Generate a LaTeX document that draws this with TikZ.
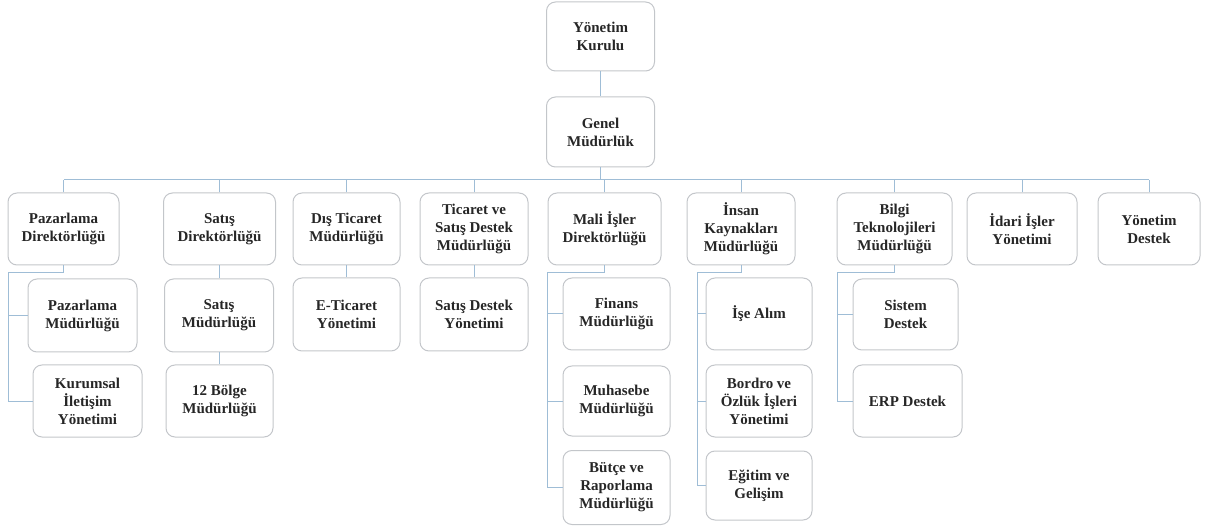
\documentclass[tikz,border=0pt]{standalone}
\usepackage{fontspec}
\setmainfont{Liberation Serif}
\definecolor{boxgray}{HTML}{C3C6CA}
\definecolor{linecol}{HTML}{9FBDD6}
\definecolor{txt}{HTML}{262626}
\tikzset{
  bx/.style={draw=boxgray, line width=1pt, rounded corners=9pt, align=center,
    font=\fontsize{15}{18}\selectfont\bfseries, text=txt, inner sep=2pt,
    minimum width=108pt, minimum height=72pt},
  conn/.style={draw=linecol, line width=1pt}
}
\begin{document}
\begin{tikzpicture}[x=1pt,y=-1pt]
\useasboundingbox (0,0) rectangle (1207,526);
% top
\node[bx, minimum height=69pt] (yk) at (600.5,36.5) {Yönetim\\Kurulu};
\node[bx, minimum height=70pt] (gm) at (600.5,132) {Genel\\Müdürlük};
% level 1
\node[bx, minimum width=111pt] (pd) at (63.5,229) {Pazarlama\\Direktörlüğü};
\node[bx, minimum width=112pt] (sd) at (219.5,229) {Satış\\Direktörlüğü};
\node[bx, minimum width=107pt] (dt) at (346.5,229) {Dış Ticaret\\Müdürlüğü};
\node[bx] (ts) at (474,229) {Ticaret ve\\Satış Destek\\Müdürlüğü};
\node[bx, minimum width=113pt] (mi) at (604.5,229) {Mali İşler\\Direktörlüğü};
\node[bx] (ik) at (741,229) {İnsan\\Kaynakları\\Müdürlüğü};
\node[bx, minimum width=115pt] (bt) at (894.5,229) {Bilgi\\Teknolojileri\\Müdürlüğü};
\node[bx, minimum width=110pt] (ii) at (1022,229) {İdari İşler\\Yönetimi};
\node[bx, minimum width=102pt] (yd) at (1149,229) {Yönetim\\Destek};
% level 2
\node[bx, minimum width=109pt, minimum height=73pt] (pm) at (82.5,315.5) {Pazarlama\\Müdürlüğü};
\node[bx, minimum width=109pt] (ki) at (87.5,401) {Kurumsal\\İletişim\\Yönetimi};
\node[bx, minimum width=109pt, minimum height=73pt] (sm) at (219,315.5) {Satış\\Müdürlüğü};
\node[bx, minimum width=107pt] (bm) at (219.5,401) {12 Bölge\\Müdürlüğü};
\node[bx, minimum width=107pt, minimum height=73pt] (et) at (346.5,314.5) {E-Ticaret\\Yönetimi};
\node[bx, minimum height=73pt] (sy) at (474,314.5) {Satış Destek\\Yönetimi};
\node[bx, minimum width=107pt] (fm) at (616.5,314) {Finans\\Müdürlüğü};
\node[bx, minimum width=107pt, minimum height=70pt] (mm) at (616.5,401) {Muhasebe\\Müdürlüğü};
\node[bx, minimum width=107pt, minimum height=74pt] (bb) at (616.5,487.5) {Bütçe ve\\Raporlama\\Müdürlüğü};
\node[bx, minimum width=106pt] (ia) at (759,314) {İşe Alım};
\node[bx, minimum width=106pt] (bo) at (759,401) {Bordro ve\\Özlük İşleri\\Yönetimi};
\node[bx, minimum width=106pt, minimum height=69pt] (eg) at (759,485.5) {Eğitim ve\\Gelişim};
\node[bx, minimum width=105pt, minimum height=71pt] (sis) at (905.5,314.5) {Sistem\\Destek};
\node[bx, minimum width=109pt] (erp) at (907.5,401) {ERP Destek};
% connectors
\coordinate (bus) at (0,180);
\draw[conn] (yk.south) -- (gm.north);
\draw[conn] (gm.south) -- (gm.south |- bus);
\draw[conn] (pd.north |- bus) -- (yd.north |- bus);
\foreach \n in {pd,sd,dt,ts,mi,ik,bt,ii,yd}{\draw[conn] (\n.north) -- (\n.north |- bus);}
\coordinate (pL) at (8,273);
\draw[conn] (pd.south) |- (pL) |- (ki.west);
\draw[conn] (pL |- pm.west) -- (pm.west);
\draw[conn] (sd.south) -- (sd.south |- sm.north);
\draw[conn] (sm.south) -- (sm.south |- bm.north);
\draw[conn] (dt.south) -- (et.north);
\draw[conn] (ts.south) -- (sy.north);
\coordinate (mL) at (547,273);
\draw[conn] (mi.south) |- (mL) |- (bb.west);
\draw[conn] (mL |- fm.west) -- (fm.west);
\draw[conn] (mL |- mm.west) -- (mm.west);
\coordinate (iL) at (697,273);
\draw[conn] (ik.south) |- (iL) |- (eg.west);
\draw[conn] (iL |- ia.west) -- (ia.west);
\draw[conn] (iL |- bo.west) -- (bo.west);
\coordinate (bL) at (837,273);
\draw[conn] (bt.south) |- (bL) |- (erp.west);
\draw[conn] (bL |- sis.west) -- (sis.west);
\end{tikzpicture}
\end{document}
